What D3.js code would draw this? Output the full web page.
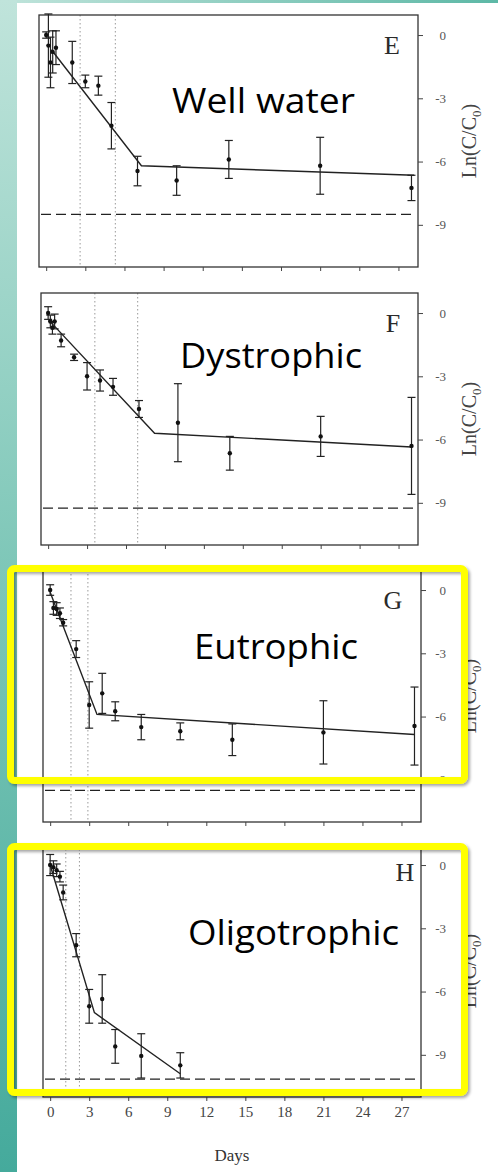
<!DOCTYPE html>
<html lang="en">
<head>
    <meta charset="UTF-8">
    <title>Ln(C/C0) vs Days - four water types</title>
    <script src="https://d3js.org/d3.v7.min.js"></script>
    <style>
        body, html {
            margin: 0;
            padding: 0;
            background: white;
        }
        svg {
            display: block;
        }
    </style>
</head>
<body>
    <div id="chart"></div>
    <script>
        // ---- data ----
        // panel E : well water
        var wellDays = [0, 0.17, 0.33, 0.5, 0.75, 2, 3, 4, 5, 7, 10, 14, 21, 28];
        var wellMean = [0, -0.5, -1.3, -0.8, -0.6, -1.3, -2.2, -2.4, -4.3, -6.45, -6.9, -5.9, -6.2, -7.25];
        var wellErr  = [0.15, 1.5, 1.2, 1.0, 0.8, 1.0, 0.3, 0.45, 1.1, 0.7, 0.7, 0.9, 1.35, 0.6];
        var wellFitX = [0.4, 7.3, 28.2];
        var wellFitY = [-0.7, -6.2, -6.65];
        var wellDotted = [2.6, 5.3];
        var wellLimit = -8.5;

        // panel F : dystrophic
        var dysDays = [0, 0.17, 0.33, 0.5, 1, 2, 3, 4, 5, 7, 10, 14, 21, 28];
        var dysMean = [0, -0.4, -0.7, -0.4, -1.3, -2.1, -3.0, -3.2, -3.5, -4.55, -5.2, -6.65, -5.85, -6.3];
        var dysErr  = [0.3, 0.3, 0.3, 0.35, 0.3, 0.15, 0.65, 0.5, 0.4, 0.4, 1.85, 0.8, 0.95, 2.3];
        var dysFitX = [0, 8.2, 28];
        var dysFitY = [-0.3, -5.7, -6.35];
        var dysDotted = [3.6, 6.9];
        var dysLimit = -9.25;

        // panel G : eutrophic
        var eutDays = [0, 0.25, 0.5, 0.75, 1, 2, 3, 4, 5, 7, 10, 14, 21, 28];
        var eutMean = [0, -0.85, -0.9, -1.1, -1.55, -2.8, -5.45, -4.9, -5.75, -6.5, -6.7, -7.1, -6.75, -6.45];
        var eutErr  = [0.25, 0.3, 0.3, 0.25, 0.15, 0.4, 1.1, 0.95, 0.45, 0.6, 0.4, 0.75, 1.5, 1.85];
        var eutFitX = [0, 3.6, 28];
        var eutFitY = [-0.1, -5.9, -6.85];
        var eutDotted = [1.6, 2.9];
        var eutLimit = -9.5;

        // panel H : oligotrophic
        var oliDays = [0, 0.25, 0.5, 0.75, 1, 2, 3, 4, 5, 7, 10];
        var oliMean = [0, -0.1, -0.25, -0.55, -1.3, -3.8, -6.7, -6.35, -8.6, -9.05, -9.5];
        var oliErr  = [0.5, 0.3, 0.3, 0.25, 0.35, 0.55, 0.8, 1.15, 0.8, 1.05, 0.6];
        var oliFitX = [0, 3.4, 10];
        var oliFitY = [0, -7.0, -9.9];
        var oliDotted = [1.2, 2.25];
        var oliLimit = -10.15;

        var panelLetters = ["E", "F", "G", "H"];
        var panelNames = ["Well water", "Dystrophic", "Eutrophic", "Oligotrophic"];
        var xTicks = [0, 3, 6, 9, 12, 15, 18, 21, 24, 27];
        var yTicks = [0, -3, -6, -9];

        var W = 498, H = 1172;
        var svg = d3.select("#chart").append("svg")
            .attr("width", W).attr("height", H);

        var defs = svg.append("defs");
        var gLeft = defs.append("linearGradient").attr("id", "leftStrip")
            .attr("x1", 0).attr("y1", 0).attr("x2", 0).attr("y2", 1);
        gLeft.append("stop").attr("offset", 0).attr("stop-color", "#c0e4db");
        gLeft.append("stop").attr("offset", 0.5).attr("stop-color", "#7cc6b7");
        gLeft.append("stop").attr("offset", 1).attr("stop-color", "#45aa9c");
        var gTop = defs.append("linearGradient").attr("id", "topStrip")
            .attr("x1", 0).attr("y1", 0).attr("x2", 1).attr("y2", 0);
        gTop.append("stop").attr("offset", 0).attr("stop-color", "#c0e4db");
        gTop.append("stop").attr("offset", 1).attr("stop-color", "#5db8a6");
        var shadow = defs.append("filter").attr("id", "shadow")
            .attr("x", "-5%").attr("y", "-5%").attr("width", "115%").attr("height", "115%");
        shadow.append("feDropShadow").attr("dx", 2).attr("dy", 2)
            .attr("stdDeviation", 1.5).attr("flood-color", "#000").attr("flood-opacity", 0.35);

        // slide background
        svg.append("rect").attr("x", 0).attr("y", 0).attr("width", W).attr("height", H).attr("fill", "white");
        svg.append("rect").attr("x", 0).attr("y", 0).attr("width", W).attr("height", 3).attr("fill", "url(#topStrip)");
        svg.append("rect").attr("x", 0).attr("y", 0).attr("width", 17).attr("height", H).attr("fill", "url(#leftStrip)");

        var panels = [
            { days: wellDays, mean: wellMean, err: wellErr, fx: wellFitX, fy: wellFitY, dotted: wellDotted, limit: wellLimit,
              top: 15, left: 39, right: 418, letterX: 392, nameX: 172, nameBase: 113, nameW: 183 },
            { days: dysDays, mean: dysMean, err: dysErr, fx: dysFitX, fy: dysFitY, dotted: dysDotted, limit: dysLimit,
              top: 293, left: 41, right: 418, letterX: 393, nameX: 180, nameBase: 368, nameW: 182 },
            { days: eutDays, mean: eutMean, err: eutErr, fx: eutFitX, fy: eutFitY, dotted: eutDotted, limit: eutLimit,
              top: 570, left: 43, right: 421, letterX: 393, nameX: 194, nameBase: 659, nameW: 164 },
            { days: oliDays, mean: oliMean, err: oliErr, fx: oliFitX, fy: oliFitY, dotted: oliDotted, limit: oliLimit,
              top: 845, left: 43, right: 421, letterX: 405, nameX: 188, nameBase: 945, nameW: 211 }
        ];
        var boxH = 252;
        var serif = "'Liberation Serif', 'DejaVu Serif', serif";

        panels.forEach(function (p, i) {
            var x = d3.scaleLinear().domain([-0.55, 28.5]).range([p.left, p.right]);
            var y = d3.scaleLinear().domain([-11, 0.95]).range([p.top + boxH, p.top]);
            var g = svg.append("g");

            // dotted verticals
            g.selectAll(".dot-v").data(p.dotted).enter().append("line")
                .attr("x1", d => x(d)).attr("x2", d => x(d))
                .attr("y1", p.top).attr("y2", p.top + boxH)
                .attr("stroke", "#999").attr("stroke-width", 1)
                .attr("stroke-dasharray", "1.5,2.5");

            // detection limit dashed line
            g.append("line")
                .attr("x1", p.left + 2).attr("x2", p.right - 2)
                .attr("y1", y(p.limit)).attr("y2", y(p.limit))
                .attr("stroke", "#222").attr("stroke-width", 1.3)
                .attr("stroke-dasharray", "10,5");

            // frame
            g.append("rect").attr("x", p.left).attr("y", p.top)
                .attr("width", p.right - p.left).attr("height", boxH)
                .attr("fill", "none").attr("stroke", "#333").attr("stroke-width", 1.3);

            // bottom axis
            var xAxis = d3.axisBottom(x).tickValues(xTicks).tickSize(4)
                .tickFormat(i === 3 ? d3.format("d") : "");
            var xa = g.append("g").attr("transform", "translate(0," + (p.top + boxH) + ")").call(xAxis);
            xa.select(".domain").remove();
            xa.selectAll(".tick line").attr("stroke", "#444");
            xa.selectAll(".tick text").attr("font-family", serif).attr("font-size", 15)
                .attr("fill", "#444").attr("dy", "0.85em");

            // right axis
            var yAxis = d3.axisRight(y).tickValues(yTicks).tickSize(5).tickFormat(d => d === 0 ? "0" : "-" + Math.abs(d));
            var ya = g.append("g").attr("transform", "translate(" + p.right + ",0)").call(yAxis);
            ya.select(".domain").remove();
            ya.selectAll(".tick line").attr("stroke", "#444");
            ya.selectAll(".tick text").attr("font-family", serif).attr("font-size", 13)
                .attr("fill", "#555").attr("text-anchor", "end").attr("x", 446 - p.right);

            // y title
            var ty = p.top + 126;
            var title = g.append("text")
                .attr("transform", "translate(476," + ty + ") rotate(-90)")
                .attr("text-anchor", "middle")
                .attr("font-family", serif).attr("font-size", 20).attr("fill", "#444");
            title.append("tspan").text("Ln(C/C");
            title.append("tspan").attr("font-size", 13).attr("dy", 5).text("0");
            title.append("tspan").attr("dy", -5).text(")");

            // fitted line
            var fit = p.fx.map((d, k) => [d, p.fy[k]]);
            g.append("path").datum(fit)
                .attr("d", d3.line().x(d => x(d[0])).y(d => y(d[1])))
                .attr("fill", "none").attr("stroke", "#222").attr("stroke-width", 1.4);

            // error bars
            var pts = p.days.map((d, k) => ({ day: d, mean: p.mean[k], err: p.err[k] }));
            var eb = g.selectAll(".eb").data(pts).enter().append("g").attr("stroke", "#222").attr("stroke-width", 1.2);
            eb.append("line")
                .attr("x1", d => x(d.day)).attr("x2", d => x(d.day))
                .attr("y1", d => y(d.mean + d.err)).attr("y2", d => y(d.mean - d.err));
            eb.append("line")
                .attr("x1", d => x(d.day) - 4).attr("x2", d => x(d.day) + 4)
                .attr("y1", d => y(d.mean + d.err)).attr("y2", d => y(d.mean + d.err));
            eb.append("line")
                .attr("x1", d => x(d.day) - 4).attr("x2", d => x(d.day) + 4)
                .attr("y1", d => y(d.mean - d.err)).attr("y2", d => y(d.mean - d.err));
            g.selectAll(".pt").data(pts).enter().append("circle")
                .attr("cx", d => x(d.day)).attr("cy", d => y(d.mean))
                .attr("r", 2.2).attr("fill", "#111");

            // panel letter
            g.append("text").attr("x", p.letterX).attr("y", p.top + (i === 3 ? 36 : 39))
                .attr("text-anchor", "middle")
                .attr("font-family", serif).attr("font-size", 26).attr("fill", "#2a2a2a")
                .text(panelLetters[i]);

            // water type label
            g.append("text").attr("x", p.nameX).attr("y", p.nameBase)
                .attr("font-family", "'Open Sans', 'Noto Sans', sans-serif").attr("font-size", 35)
                .attr("fill", "#000")
                .attr("textLength", p.nameW).attr("lengthAdjust", "spacingAndGlyphs")
                .text(panelNames[i]);
        });

        // x title
        svg.append("text").attr("x", 232).attr("y", 1161).attr("text-anchor", "middle")
            .attr("font-family", serif).attr("font-size", 17).attr("fill", "#333")
            .text("Days");

        // yellow highlight boxes on the last two panels
        var highlights = [[10.5, 568.5, 454, 212], [10.5, 846.5, 454, 246]];
        svg.selectAll(".hl").data(highlights).enter().append("rect")
            .attr("x", d => d[0]).attr("y", d => d[1])
            .attr("width", d => d[2]).attr("height", d => d[3])
            .attr("rx", 4)
            .attr("fill", "none").attr("stroke", "#ffff00").attr("stroke-width", 7)
            .attr("filter", "url(#shadow)");
    </script>
</body>
</html>
